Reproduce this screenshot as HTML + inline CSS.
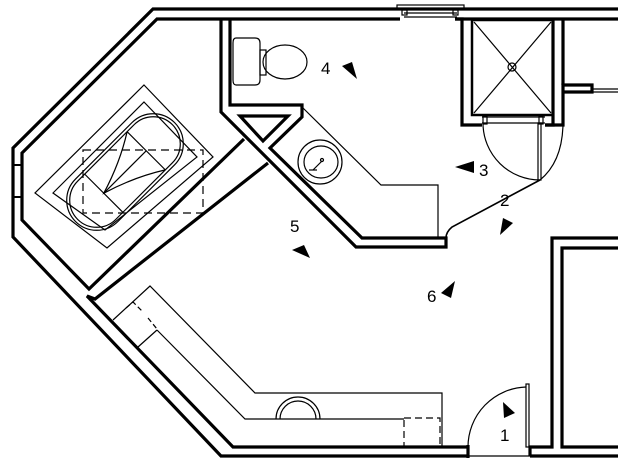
<!DOCTYPE html>
<html><head><meta charset="utf-8"><style>html,body{margin:0;padding:0;background:#fff}svg{display:block}text{font-family:"Liberation Sans",sans-serif;font-size:17px;fill:#000}</style></head>
<body>
<svg width="618" height="466" viewBox="0 0 618 466" xmlns="http://www.w3.org/2000/svg">
<g fill="none" stroke="#000" stroke-width="3.2" stroke-linejoin="miter">
<polyline points="618,9 153,9 13,148 13,237 221,456 468,456"/>
<polyline points="530,456 618,456"/>
<polyline points="400,19 157,19 22,153 22,220 89,289 244,139"/>
<polyline points="268,163 95,299 87,296 233,447 468,447"/>
<line x1="468" y1="445" x2="468" y2="458"/>
<polyline points="530,456 530,447 552,447 552,238 618,238"/>
<polyline points="618,248 562,248 562,447 618,447"/>
<polyline points="221,19 221,112 356,247 446,247 446,238 362,238 270,148 302,117 302,105 230,105 230,19"/>
<polygon points="240,116 288,116 263,141"/>
<polyline points="455,19 462,19 462,125 482,125"/>
<polyline points="545,125 563,125 563,85 592,85 592,92 563,92"/>
<line x1="563" y1="19" x2="563" y2="85"/>
<line x1="455" y1="19" x2="618" y2="19"/>
<polyline points="545,125 553,125 553,19"/>
<rect x="472" y="20" width="81" height="95" stroke-width="2.5"/>
<line x1="13" y1="165" x2="22" y2="165" stroke-width="2"/>
<line x1="13" y1="197" x2="22" y2="197" stroke-width="2"/>
</g>
<g fill="none" stroke="#000" stroke-width="1.2">
<rect x="397" y="5" width="67" height="4"/>
<line x1="404" y1="13" x2="457" y2="13"/>
<line x1="404" y1="17" x2="457" y2="17"/>
<rect x="402" y="10" width="5" height="5"/><rect x="453" y="10" width="5" height="5"/>
<line x1="592" y1="89" x2="618" y2="89"/><line x1="592" y1="92" x2="618" y2="92"/>
<line x1="474" y1="22" x2="551" y2="113"/><line x1="551" y1="22" x2="474" y2="113"/>
<circle cx="512" cy="67" r="4"/>
<line x1="482" y1="123" x2="545" y2="123"/>
<line x1="482" y1="117" x2="545" y2="117"/>
<rect x="483" y="116" width="4" height="8"/><rect x="539" y="116" width="4" height="8"/>
<rect x="538" y="123" width="3" height="57"/>
<path d="M483,124 A57,57 0 0 0 540,180"/>
<path d="M563,125 Q562,162 540,180"/>
<path d="M540,180 L452,227 Q446,232 446,238" stroke-width="1.6"/>
<rect x="526" y="384" width="3" height="63"/>
<path d="M468,447 A60,60 0 0 1 526,387"/>
<line x1="468" y1="456" x2="530" y2="456"/>
<path d="M236,38 H255 Q260,38 260,43 V80 Q260,85 255,85 H236 Q233,85 233,80 V43 Q233,38 236,38 Z"/>
<rect x="260" y="50" width="6" height="25"/>
<ellipse cx="285" cy="62" rx="22" ry="17"/>
<circle cx="320" cy="162" r="22"/>
<ellipse cx="321" cy="162" rx="17" ry="16"/>
<line x1="313" y1="170" x2="322" y2="161"/><circle cx="322" cy="160" r="1.5"/>
<line x1="309" y1="170" x2="317" y2="170"/>
<polyline points="303,108 381,185 438,185 438,238"/>
<polygon points="144,85 213,157 107,248 35,193"/>
<polygon points="144,102 197,157 105,230 53,193"/>
<g transform="rotate(-45 125 172)">
<rect x="55" y="142" width="140" height="60" rx="30"/>
<rect x="58" y="145" width="134" height="54" rx="27"/>
<path d="M95,145 L95,199 M155,145 L155,199"/>
<path d="M95,172 L155,172"/>
<path d="M155,145 Q128,162 95,172 Q128,182 155,199"/>
</g>
<rect x="83" y="150" width="120" height="63" stroke-dasharray="8,5"/>
<polyline points="113,320 150,286 255,393 442,393 442,447"/>
<polyline points="157,330 245,419 404,419"/>
<line x1="138" y1="347" x2="157" y2="330"/>
<polyline points="126,308 133,302 142,311" stroke-dasharray="5,3"/>
<line x1="148" y1="318" x2="157" y2="329" stroke-dasharray="5,3"/>
<rect x="404" y="418" width="36" height="29" stroke-dasharray="7,4"/>
<path d="M276,419 A22,22 0 0 1 320,419"/>
<path d="M280,419 A18,18 0 0 1 316,419"/>
</g>
<g fill="#000">
<text x="321" y="74">4</text>
<polygon points="342,66 352,62 357,79"/>
<text x="479" y="176">3</text>
<polygon points="455,167 474,161 474,173"/>
<text x="500" y="206">2</text>
<polygon points="500,235 503,218 513,223"/>
<text x="290" y="232">5</text>
<polygon points="292,250 304,245 310,258"/>
<text x="427" y="302">6</text>
<polygon points="455,281 441,293 451,298"/>
<text x="500" y="441">1</text>
<polygon points="503,402 504,418 515,413"/>
</g>
</svg>
</body></html>
